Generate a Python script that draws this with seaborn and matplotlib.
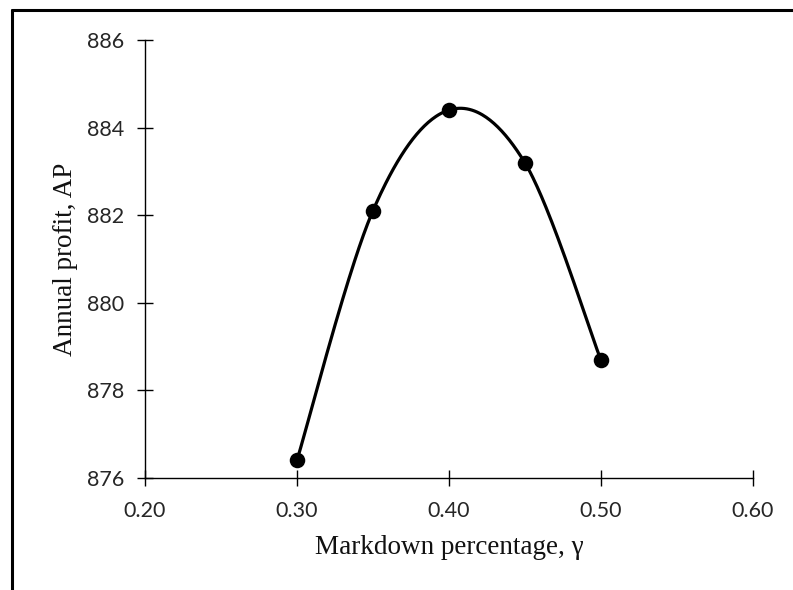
import numpy as np
import pandas as pd
import matplotlib
matplotlib.use("Agg")
import matplotlib.pyplot as plt
import seaborn as sns
from matplotlib.lines import Line2D

# Markdown percentage and resulting annual profit
markdown = [0.30, 0.35, 0.40, 0.45, 0.50]
profit = [876.4, 882.1, 884.4, 883.2, 878.7]

x_ticks = [0.20, 0.30, 0.40, 0.50, 0.60]
x_tick_labels = ["0.20", "0.30", "0.40", "0.50", "0.60"]
y_ticks = [876, 878, 880, 882, 884, 886]
y_tick_labels = ["876", "878", "880", "882", "884", "886"]


def smooth_curve(xs, ys, n=60):
    """Catmull-Rom style smoothing through every data point."""
    xs = np.asarray(xs, float)
    ys = np.asarray(ys, float)
    px = np.concatenate([[xs[0]], xs, [xs[-1]]])
    py = np.concatenate([[ys[0]], ys, [ys[-1]]])
    out_x, out_y = [], []
    t = np.linspace(0, 1, n)
    for i in range(1, len(px) - 2):
        p0x, p1x, p2x, p3x = px[i - 1], px[i], px[i + 1], px[i + 2]
        p0y, p1y, p2y, p3y = py[i - 1], py[i], py[i + 1], py[i + 2]
        c1x, c1y = p1x + (p2x - p0x) / 6, p1y + (p2y - p0y) / 6
        c2x, c2y = p2x - (p3x - p1x) / 6, p2y - (p3y - p1y) / 6
        bx = ((1 - t) ** 3) * p1x + 3 * ((1 - t) ** 2) * t * c1x + 3 * (1 - t) * t ** 2 * c2x + t ** 3 * p2x
        by = ((1 - t) ** 3) * p1y + 3 * ((1 - t) ** 2) * t * c1y + 3 * (1 - t) * t ** 2 * c2y + t ** 3 * p2y
        out_x.extend(bx)
        out_y.extend(by)
    return np.array(out_x), np.array(out_y)


sns.set_theme(style="white")
plt.rcParams["font.family"] = ["Lato", "DejaVu Sans"]

fig = plt.figure(figsize=(7.93, 5.90), dpi=100)
ax = fig.add_axes([145 / 793, 1 - 478 / 590, (752.7 - 145) / 793, (478 - 40) / 590])

sx, sy = smooth_curve(markdown, profit)
curve = pd.DataFrame({"x": sx, "y": sy})
points = pd.DataFrame({"x": markdown, "y": profit})

sns.lineplot(data=curve, x="x", y="y", ax=ax, color="black", linewidth=2.3,
             sort=False, estimator=None)
sns.scatterplot(data=points, x="x", y="y", ax=ax, color="black", s=125,
                edgecolor="black", linewidth=0, zorder=5)

ax.set_xlim(0.20, 0.60)
ax.set_ylim(876, 886)
ax.set_xticks(x_ticks)
ax.set_xticklabels(x_tick_labels)
ax.set_yticks(y_ticks)
ax.set_yticklabels(y_tick_labels)

for side in ["top", "right"]:
    ax.spines[side].set_visible(False)
for side in ["left", "bottom"]:
    ax.spines[side].set_color("black")
    ax.spines[side].set_linewidth(1.0)

ax.tick_params(axis="both", direction="inout", length=11.5, width=1.0,
               color="black", labelsize=15.5, labelcolor="#262626",
               bottom=True, left=True)
ax.tick_params(axis="x", pad=11)
ax.tick_params(axis="y", pad=9)

serif = ["Liberation Serif", "DejaVu Serif"]
ax.set_xlabel("Markdown percentage, γ", family=serif, fontsize=19.5,
              color="#111111", labelpad=10)
ax.set_ylabel("Annual profit, AP", family=serif, fontsize=19.5,
              color="#111111", labelpad=7)

# outer frame of the figure panel
fig.add_artist(Line2D([12 / 793, 1.0], [1 - 9.5 / 590] * 2, transform=fig.transFigure,
                      color="black", linewidth=2.2))
fig.add_artist(Line2D([12 / 793] * 2, [0.0, 1 - 9.5 / 590], transform=fig.transFigure,
                      color="black", linewidth=2.2))

fig.savefig("out.png", dpi=100, facecolor="white")
